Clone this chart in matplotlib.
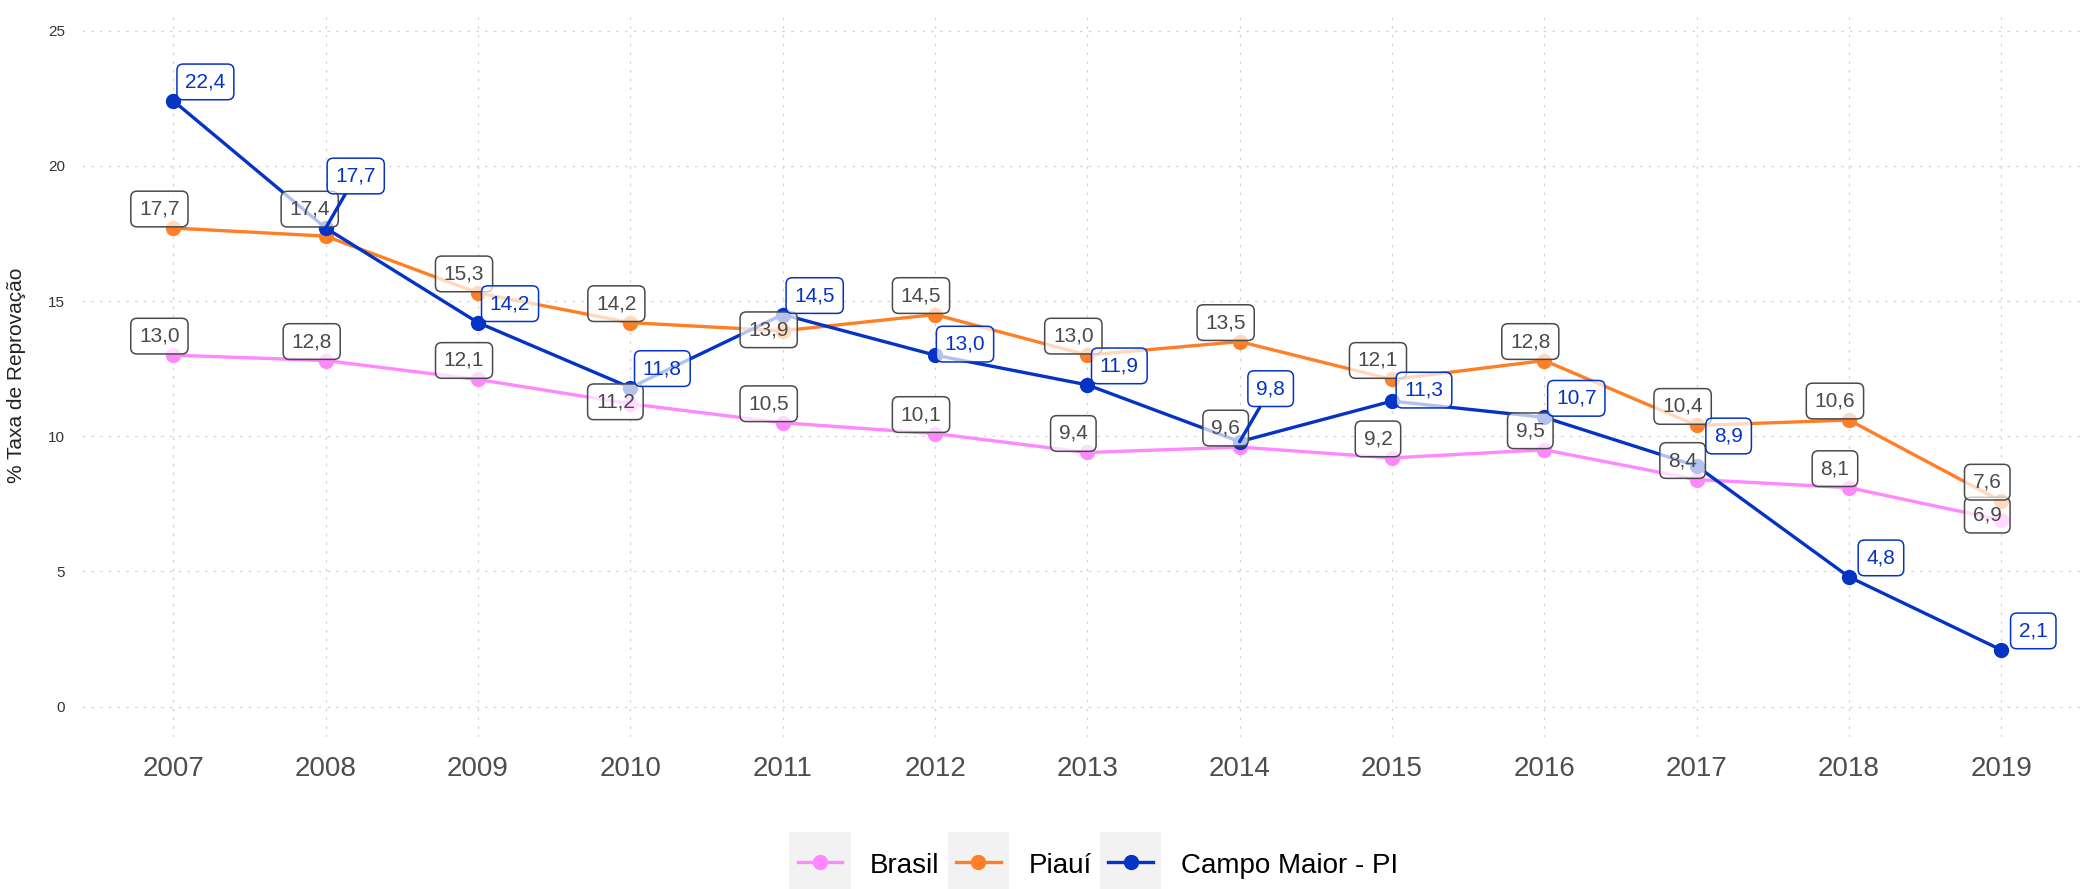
import matplotlib
matplotlib.use('Agg')
import matplotlib.pyplot as plt
from matplotlib.legend_handler import HandlerLine2D
from matplotlib.patches import Rectangle
from matplotlib.lines import Line2D

plt.rcParams['font.family'] = ['Liberation Sans', 'DejaVu Sans']

years = [2007, 2008, 2009, 2010, 2011, 2012, 2013, 2014, 2015, 2016, 2017, 2018, 2019]
brasil = [13.0, 12.8, 12.1, 11.2, 10.5, 10.1, 9.4, 9.6, 9.2, 9.5, 8.4, 8.1, 6.9]
piaui = [17.7, 17.4, 15.3, 14.2, 13.9, 14.5, 13.0, 13.5, 12.1, 12.8, 10.4, 10.6, 7.6]
campo_maior = [22.4, 17.7, 14.2, 11.8, 14.5, 13.0, 11.9, 9.8, 11.3, 10.7, 8.9, 4.8, 2.1]
series_names = ['Brasil', 'Piauí', 'Campo Maior - PI']
y_ticks = [0, 5, 10, 15, 20, 25]

colors = ['#FF88FF', '#FF7F27', '#0433C6']
label_text = ['#4A4A4A', '#4A4A4A', '#0433C6']
# default label offset (pixels: right, up) for each series
base_offset = [(-14, 19), (-14, 19), (32, 19)]
# labels pushed aside where they would collide
label_shift = {
    (0, 2010): (-15, 2),
    (0, 2019): (-14, 5),
    (1, 2008): (-16, 27),
    (1, 2011): (-14, 1),
    (2, 2008): (30, 52),
    (2, 2012): (30, 11),
    (2, 2014): (31, 53),
    (2, 2015): (32, 11),
    (2, 2017): (32, 30),
}

W, H = 2083, 889
fig = plt.figure(figsize=(W / 100, H / 100), dpi=100)
ax = fig.add_axes([82 / W, 152 / H, 2000 / W, 724 / H])

all_series = [brasil, piaui, campo_maior]
for i, vals in enumerate(all_series):
    ax.plot(years, vals, color=colors[i], lw=2.4, marker='o', markersize=10,
            zorder=3 + i, label=series_names[i])

for i, vals in enumerate(all_series):
    for yr, v in zip(years, vals):
        dx, dy = label_shift.get((i, yr), base_offset[i])
        far = (i == 2 and dy > 40)
        ax.annotate(f'{v:.1f}'.replace('.', ','), xy=(yr, v),
                    xytext=(dx * 0.72, dy * 0.72), textcoords='offset points',
                    ha='center', va='center', fontsize=15, color=label_text[i],
                    bbox=dict(boxstyle='round,pad=0.4,rounding_size=0.3',
                              fc=(1, 1, 1, 0.7), ec=label_text[i], lw=1.1),
                    arrowprops=dict(arrowstyle='-', color=colors[i], lw=2.4,
                                    shrinkA=0, shrinkB=0) if far else None,
                    zorder=10 + i)

ax.set_xlim(2006.4, 2019.53)
ax.set_ylim(-1.12, 25.65)
ax.set_xticks(years)
ax.set_xticklabels([str(y) for y in years])
ax.set_yticks(y_ticks)
ax.tick_params(axis='x', length=0, pad=14, labelsize=20, labelcolor='#4D4D4D')
ax.tick_params(axis='y', length=0, pad=12, labelsize=11, labelcolor='#333333')
for s in ax.spines.values():
    s.set_visible(False)
ax.grid(True, color='#D2D2D2', lw=0.9, linestyle=(0, (2, 5)))
ax.set_axisbelow(True)
ax.set_ylabel('% Taxa de Reprovação', fontsize=15, color='#222222')
ax.yaxis.set_label_coords(-0.028, 0.5)


class KeyHandler(HandlerLine2D):
    # line+marker key drawn on a light grey square
    def create_artists(self, legend, orig_handle, xdescent, ydescent,
                       width, height, fontsize, trans):
        bg = Rectangle((-xdescent - 6, -ydescent - 14), width + 12, height + 28,
                       facecolor='#F2F2F2', edgecolor='none', transform=trans)
        arts = super().create_artists(legend, orig_handle, xdescent, ydescent,
                                      width, height, fontsize, trans)
        return [bg] + arts


handles = [Line2D([], [], color=c, lw=2.4, marker='o', markersize=10) for c in colors]
fig.legend(handles, series_names, loc='center', bbox_to_anchor=(0.527, 0.027),
           ncol=3, frameon=False, fontsize=20, handlelength=1.6, handleheight=1.0,
           handletextpad=1.0, columnspacing=0.6,
           handler_map={Line2D: KeyHandler()})

fig.savefig('out.png', dpi=100)
